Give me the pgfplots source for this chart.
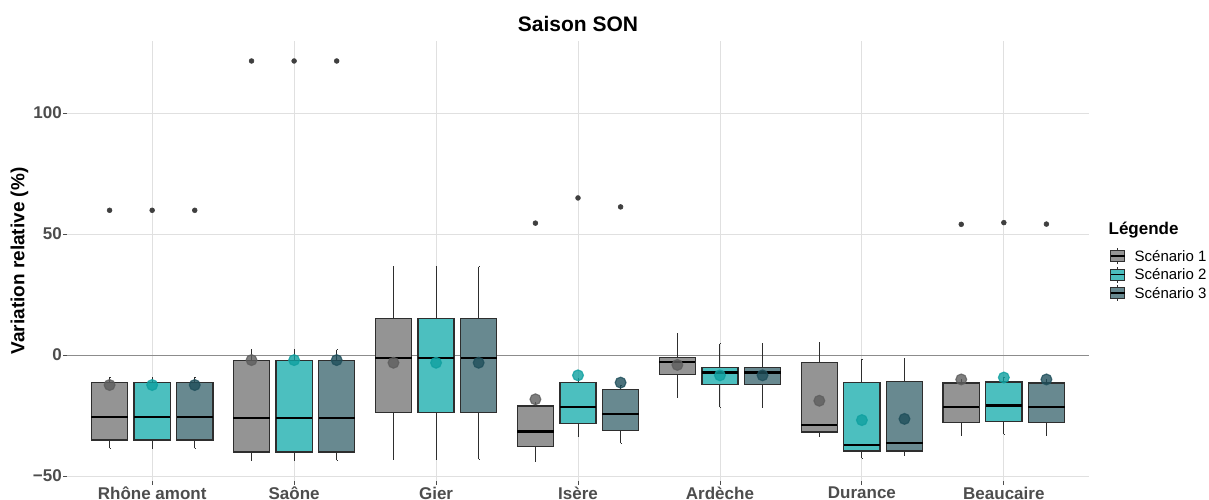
\documentclass[border=0pt]{standalone}
\usepackage{fontspec}
\setmainfont{Liberation Sans}
\usepackage{pgfplots}
\pgfplotsset{compat=1.18}
\usepgfplotslibrary{statistics}
\definecolor{cA}{HTML}{949494}
\definecolor{cB}{HTML}{4CBFBF}
\definecolor{cC}{HTML}{688990}
\definecolor{mA}{HTML}{5E5E5E}
\definecolor{mB}{HTML}{0FA0A0}
\definecolor{mC}{HTML}{1F4F5B}
\definecolor{boxborder}{HTML}{2E2E2E}
\definecolor{gridgray}{HTML}{E0E0E0}
\definecolor{labgray}{HTML}{4D4D4D}
\definecolor{outgray}{HTML}{3F3F3F}
\definecolor{zerogray}{HTML}{8C8C8C}
% #1 pos, #2 lw, #3 lq, #4 med, #5 uq, #6 uw, #7 fill, #8 outliers
\newcommand\bx[8]{%
\addplot[forget plot, fill=#7, draw=boxborder, line width=0.45pt,
  mark=*, mark size=0.8pt, mark options={fill=outgray, draw=outgray, line width=0.2pt},
  boxplot prepared={draw direction=y, draw position=#1, lower whisker=#2, lower quartile=#3,
  median=#4, upper quartile=#5, upper whisker=#6}] coordinates {#8};}
\newcommand\key[1]{\addlegendimage{legend image code/.code={
  \draw[boxborder, line width=0.3pt] (2.33pt,-2.67pt) -- (2.33pt,2.67pt);
  \draw[fill=#1, draw=boxborder, line width=0.3pt] (0pt,-1.83pt) rectangle (4.67pt,1.83pt);
  \draw[black, line width=0.6pt] (0pt,0pt) -- (4.67pt,0pt);}}}
\begin{document}
\begin{tikzpicture}
\useasboundingbox (0,0) rectangle (403pt,166.667pt);
\begin{axis}[
  at={(22.333pt,6.3pt)}, anchor=south west,
  scale only axis, width=340.667pt, height=146.733pt,
  xmin=0.4, xmax=7.6, ymin=-52.1, ymax=129.8,
  xtick={1,2,3,4,5,6,7},
  xticklabels={Rhône amont,Saône,Gier,Isère,Ardèche,Durance,Beaucaire},
  ytick={-50,0,50,100}, yticklabels={−50,0,50,100},
  tick pos=left, tick align=outside, major tick length=1.33pt,
  tick style={color=labgray, line width=0.27pt},
  axis line style={draw=none},
  grid=major, major grid style={color=gridgray, line width=0.3pt},
  ticklabel style={font=\fontsize{5.67}{6.8}\selectfont\bfseries, text=labgray},
  xticklabel style={inner ysep=0pt},
  yticklabel style={inner xsep=0.2pt},
  xticklabel shift=0.5pt,
  ylabel={Variation relative (\%)},
  ylabel style={at={(axis description cs:-0.0465,0.5)}, anchor=center,
    font=\fontsize{6.33}{7.6}\selectfont\bfseries},
  title={Saison SON},
  title style={at={(axis description cs:0.5,0.9812)}, anchor=base,
    inner sep=0pt, font=\fontsize{7}{8.4}\selectfont\bfseries},
  boxplot/draw direction=y,
  boxplot/box extend=0.255, boxplot/whisker extend=0.001,
  boxplot/every median/.style={draw=black, line width=0.75pt},
  boxplot/every whisker/.style={draw=boxborder, line width=0.33pt},
  legend cell align=left,
  legend style={at={(1.0196,0.5328)}, anchor=north west,
    draw=none, fill=none, inner sep=0pt, row sep=0pt, column sep=3.07pt,
    font=\fontsize{5}{6}\selectfont,
    nodes={inner sep=0pt, text height=4.84pt, text depth=1.26pt}},
]
\key{cA}
\addlegendentry{Scénario 1}
\key{cB}
\addlegendentry{Scénario 2}
\key{cC}
\addlegendentry{Scénario 3}

\addplot[forget plot, zerogray, line width=0.3pt] coordinates {(0.4,0) (7.6,0)};

% Rhône amont
\bx{0.7}{-38.6}{-35.1}{-25.6}{-11.4}{-9.2}{cA}{(0,59.8)}
\bx{1.0}{-38.6}{-35.1}{-25.6}{-11.4}{-9.2}{cB}{(0,59.8)}
\bx{1.3}{-38.6}{-35.1}{-25.6}{-11.4}{-9.2}{cC}{(0,59.8)}
% Saone
\bx{1.7}{-43.4}{-40.1}{-25.9}{-2.3}{2.1}{cA}{(0,121.5)}
\bx{2.0}{-43.4}{-40.1}{-25.9}{-2.3}{2.1}{cB}{(0,121.5)}
\bx{2.3}{-43.4}{-40.1}{-25.9}{-2.3}{2.1}{cC}{(0,121.5)}
% Gier
\bx{2.7}{-43.0}{-23.8}{-1.1}{15.2}{36.5}{cA}{}
\bx{3.0}{-43.0}{-23.8}{-1.1}{15.2}{36.5}{cB}{}
\bx{3.3}{-43.0}{-23.8}{-1.1}{15.2}{36.5}{cC}{}
% Isere
\bx{3.7}{-43.8}{-37.9}{-31.6}{-21.1}{-19.8}{cA}{(0,54.5)}
\bx{4.0}{-33.7}{-28.4}{-21.6}{-11.3}{-9.6}{cB}{(0,64.9)}
\bx{4.3}{-36.5}{-31.3}{-24.4}{-14.3}{-12.4}{cC}{(0,61.2)}
% Ardeche
\bx{4.7}{-17.5}{-8.1}{-3.0}{-1.0}{9.0}{cA}{}
\bx{5.0}{-21.6}{-12.3}{-7.2}{-5.1}{4.7}{cB}{}
\bx{5.3}{-21.6}{-12.3}{-7.2}{-5.1}{4.7}{cC}{}
% Durance
\bx{5.7}{-33.7}{-31.8}{-28.9}{-3.0}{5.1}{cA}{}
\bx{6.0}{-42.7}{-39.7}{-37.3}{-11.3}{-1.7}{cB}{}
\bx{6.3}{-41.6}{-39.7}{-36.5}{-11.0}{-1.4}{cC}{}
% Beaucaire
\bx{6.7}{-33.3}{-27.8}{-21.4}{-11.6}{-10.1}{cA}{(0,54.0)}
\bx{7.0}{-32.8}{-27.5}{-20.9}{-11.2}{-9.2}{cB}{(0,54.7)}
\bx{7.3}{-33.3}{-27.8}{-21.4}{-11.6}{-10.1}{cC}{(0,54.1)}

% means
\addplot[forget plot, only marks, mark=*, mark size=1.8pt,
  mark options={fill=mA, draw=mA, fill opacity=0.8, draw opacity=0.8}]
  coordinates {(0.7,-12.4)(1.7,-2.1)(2.7,-3.2)(3.7,-18.3)(4.7,-4.1)(5.7,-18.9)(6.7,-10.1)};
\addplot[forget plot, only marks, mark=*, mark size=1.8pt,
  mark options={fill=mB, draw=mB, fill opacity=0.8, draw opacity=0.8}]
  coordinates {(1.0,-12.4)(2.0,-2.1)(3.0,-3.2)(4.0,-8.4)(5.0,-8.4)(6.0,-26.9)(7.0,-9.3)};
\addplot[forget plot, only marks, mark=*, mark size=1.8pt,
  mark options={fill=mC, draw=mC, fill opacity=0.8, draw opacity=0.8}]
  coordinates {(1.3,-12.4)(2.3,-2.1)(3.3,-3.2)(4.3,-11.4)(5.3,-8.4)(6.3,-26.4)(7.3,-10.1)};
\end{axis}
\node[anchor=west, inner sep=0pt, font=\fontsize{5.67}{6.8}\selectfont\bfseries] at (369.33pt,90pt) {Légende};
\end{tikzpicture}
\end{document}
